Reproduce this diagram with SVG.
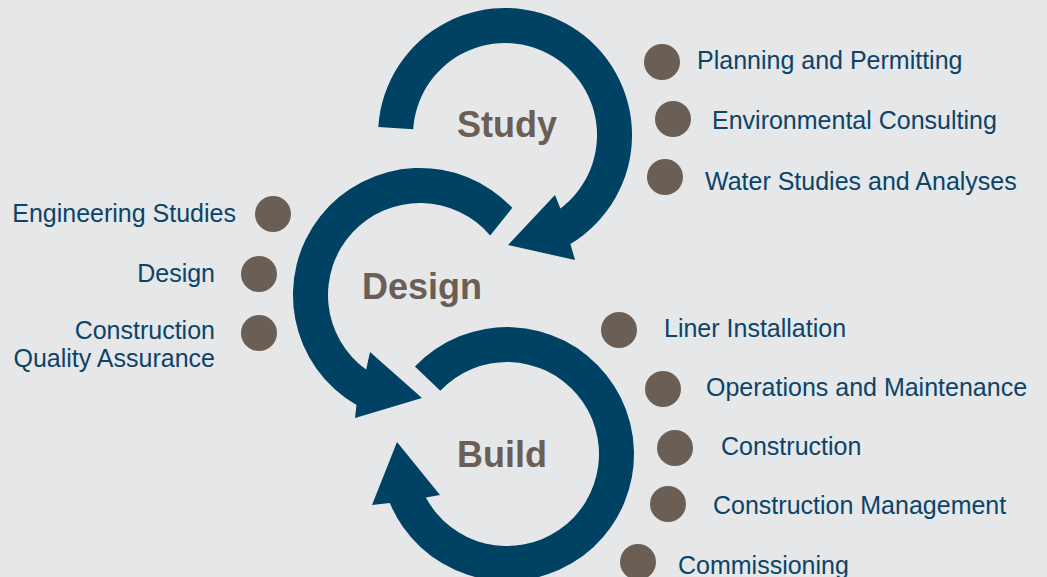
<svg xmlns="http://www.w3.org/2000/svg" width="1047" height="577" viewBox="0 0 1047 577">
<style>
.arrow{fill:#004263;}
.dot{fill:#6B5E54;}
.stage{font-family:"Liberation Sans",Arial,sans-serif;font-weight:bold;font-size:36px;fill:#6B5E54;text-anchor:middle;}
.lbl{font-family:"Liberation Sans",Arial,sans-serif;font-size:25px;fill:#0B4468;}
.r{text-anchor:end;}
</style>
<rect width="1047" height="577" fill="#E6E7E9"/>
<g id="connectors">
<path id="study-arrow" class="arrow" d="M 378.3,127 A 127 127 0 1 1 570.4,243.9 L 575,260 L 508,245 L 555,195 L 560.4,208.5 A 92 92 0 1 0 413.2,129.2 Z"/>
<path id="design-arrow" class="arrow" d="M 512.3,207.8 A 127 127 0 1 0 356.5,405 L 355,418 L 422,398 L 370,352 L 366.2,369.6 A 92 92 0 1 1 490.2,235.5 Z"/>
<path id="build-arrow" class="arrow" d="M 414.9,366.6 A 127 127 0 1 1 389.8,503 L 372,505 L 397,442 L 440,495 L 425.9,497.5 A 92 92 0 1 0 440.3,390.7 Z"/>
</g>
<g id="study"><text class="stage" x="507" y="137">Study</text></g>
<g id="design"><text class="stage" x="422" y="299">Design</text></g>
<g id="build"><text class="stage" x="502" y="467">Build</text></g>
<g id="planning"><circle class="dot" cx="662" cy="62" r="18"/><text class="lbl" x="697" y="69">Planning and Permitting</text></g>
<g id="environmental"><circle class="dot" cx="673" cy="119" r="18"/><text class="lbl" x="712" y="129">Environmental Consulting</text></g>
<g id="water"><circle class="dot" cx="665" cy="177" r="18"/><text class="lbl" x="705" y="190">Water Studies and Analyses</text></g>
<g id="engineering"><circle class="dot" cx="273" cy="214" r="18"/><text class="lbl r" x="236" y="222">Engineering Studies</text></g>
<g id="design-item"><circle class="dot" cx="259" cy="274" r="18"/><text class="lbl r" x="215" y="282">Design</text></g>
<g id="cqa"><circle class="dot" cx="259" cy="333" r="18"/><text class="lbl r" x="215" y="339"><tspan x="215" y="339">Construction</tspan><tspan x="215" y="367">Quality Assurance</tspan></text></g>
<g id="liner"><circle class="dot" cx="619" cy="330" r="18"/><text class="lbl" x="664" y="337">Liner Installation</text></g>
<g id="operations"><circle class="dot" cx="663" cy="389" r="18"/><text class="lbl" x="706" y="396">Operations and Maintenance</text></g>
<g id="construction"><circle class="dot" cx="675" cy="448" r="18"/><text class="lbl" x="721" y="455">Construction</text></g>
<g id="cm"><circle class="dot" cx="668" cy="504" r="18"/><text class="lbl" x="713" y="514">Construction Management</text></g>
<g id="commissioning"><circle class="dot" cx="638" cy="562" r="18"/><text class="lbl" x="678" y="574">Commissioning</text></g>
</svg>
